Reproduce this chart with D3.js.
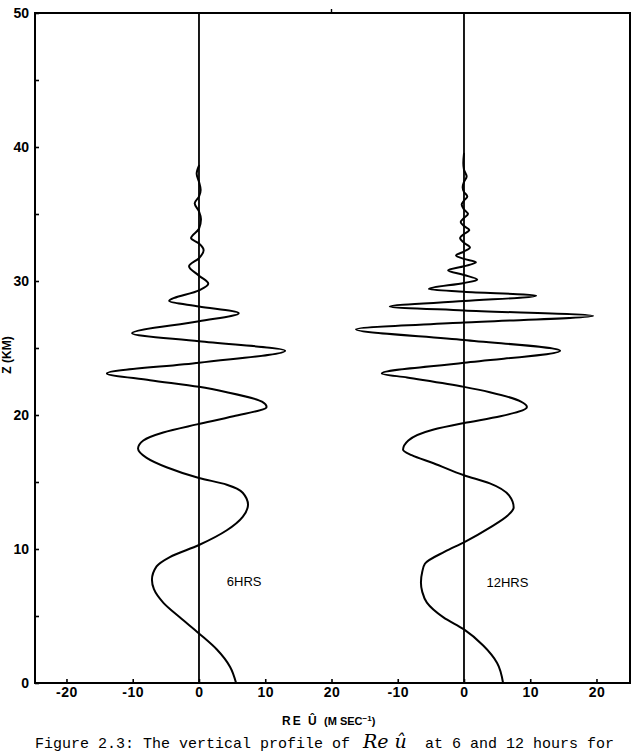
<!DOCTYPE html>
<html>
<head>
<meta charset="utf-8">
<script src="https://cdn.jsdelivr.net/npm/d3@7/dist/d3.min.js"></script>
<style>
html,body{margin:0;padding:0;background:#fff;}
svg{display:block;}
</style>
</head>
<body>
<svg id="chart" width="642" height="752"></svg>
<script>
// ---- data ----
const heights6 = [0,1.2,2.5,3.7,4.9,6.0,7.0,7.7,8.7,9.4,10.3,11.4,12.4,13.3,14.2,14.8,15.3,16.1,16.8,17.5,18.1,18.7,19.3,19.9,20.6,21.0,21.7,22.1,22.6,23.1,23.9,24.8,25.5,26.1,27.0,27.6,28.1,28.5,29.3,29.8,30.4,31.1,31.7,32.3,32.8,33.2,33.9,34.6,35.2,35.8,36.3,36.8,37.4,38.0,38.6];
const wind6    = [5.6,4.7,2.7,0,-2.9,-5.4,-6.8,-7.1,-6.4,-4.4,0,4.2,6.6,7.4,6.6,4.2,0,-4.9,-7.9,-9.2,-8.4,-5.4,-0.3,5.2,10.2,9.5,4.2,0,-7.4,-13.9,0,13.0,0,-10.1,0,6.0,0,-4.5,0,1.4,0,-1.5,0,0.7,0,-1.2,0,0.3,0,-0.65,0,0.25,0,-0.35,0];
const heights12 = [0,1.5,2.8,4.0,4.9,6.0,6.8,7.5,8.3,8.9,9.8,10.5,11.6,12.5,13.1,14.0,14.9,15.5,16.4,17.0,17.4,18.1,18.9,19.4,19.9,20.6,21.0,21.7,22.1,22.8,23.1,23.9,24.8,25.6,26.4,26.9,27.4,27.8,28.1,28.5,28.9,29.2,29.4,29.85,30.1,30.45,30.8,31.1,31.4,31.65,31.9,32.2,32.5,32.85,33.2,33.5,33.8,34.1,34.4,34.7,35.0,35.35,35.7,36.0,36.3,36.65,37.0,37.4,37.8,38.3,38.8,39.5];
const wind12    = [5.9,5.0,2.9,0,-3.1,-5.6,-6.3,-6.5,-6.3,-5.9,-2.9,0,3.9,6.6,7.5,6.8,3.9,0,-4.6,-7.9,-9.2,-8.4,-4.7,0,5.5,9.5,8.6,3.9,0,-8.6,-12.4,0,14.5,0,-16.3,0,19.5,0,-11.2,0,10.9,0,-5.3,0,2.0,0,-2.4,0,1.8,0,-1.2,0,0.9,0,-0.6,0,0.8,0,-0.5,0,0.6,0,-0.35,0,0.5,0,-0.2,0,0.4,0,-0.1,0];
const panelLabels = ["6HRS","12HRS"];
const yTicks = [0,5,10,15,20,25,30,35,40,45,50];
const xTicksA = [-20,-10,0,10,20];
const xTicksB = [-10,0,10,20];

// ---- layout ----
const svg = d3.select("#chart");
svg.append("rect").attr("width",642).attr("height",752).attr("fill","#fff");

const y = d3.scaleLinear().domain([0,50]).range([683,13]);
const xA = d3.scaleLinear().domain([-24.75,20]).range([35,331.5]);
const xB = d3.scaleLinear().domain([-20,25.06]).range([331.5,630]);

const tickFont = "Liberation Sans, Arial, sans-serif";

// left axis
const yAxis = d3.axisLeft(y).tickValues(yTicks).tickSizeInner(-4).tickSizeOuter(0).tickPadding(6)
  .tickFormat(d => d % 10 === 0 ? d : "");
const gy = svg.append("g").attr("transform","translate(35,0)").call(yAxis);
gy.select(".domain").remove();
gy.selectAll("line").attr("stroke","#000").attr("stroke-width",1.6);
gy.selectAll("text").attr("font-family",tickFont).attr("font-weight","bold").attr("font-size",14).attr("fill","#000");

// bottom axes
function bottom(scale, ticks){
  const ax = d3.axisBottom(scale).tickValues(ticks).tickSizeInner(-4).tickSizeOuter(0).tickPadding(4)
    .tickFormat(d => d);
  const g = svg.append("g").attr("transform","translate(0,683)").call(ax);
  g.select(".domain").remove();
  g.selectAll("line").attr("stroke","#000").attr("stroke-width",1.6);
  g.selectAll("text").attr("font-family",tickFont).attr("font-weight","bold").attr("font-size",14)
    .attr("letter-spacing",0.5).attr("fill","#000");
  return g;
}
bottom(xA, xTicksA);
bottom(xB, xTicksB);

// frame
svg.append("rect").attr("x",35).attr("y",13).attr("width",595).attr("height",670)
  .attr("fill","none").attr("stroke","#000").attr("stroke-width",2);
// small mark at the top of the panel boundary
svg.append("line").attr("x1",xA(20)).attr("x2",xA(20)).attr("y1",y(50)).attr("y2",y(50)-4)
  .attr("stroke","#000").attr("stroke-width",1.4);

// zero lines
[[xA,0],[xB,0]].forEach(([sc,v])=>{
  svg.append("line").attr("x1",sc(v)).attr("x2",sc(v)).attr("y1",y(0)).attr("y2",y(50))
    .attr("stroke","#000").attr("stroke-width",1.8);
});

// profiles
function profile(scale, hs, us){
  const pts = hs.map((h,i)=>({z:h,u:us[i]})).sort((a,b)=>b.z-a.z);
  const line = d3.line().x(d=>scale(d.u)).y(d=>y(d.z)).curve(d3.curveMonotoneY);
  svg.append("path").datum(pts).attr("d",line).attr("fill","none").attr("stroke","#000")
    .attr("stroke-width",2).attr("stroke-linejoin","round").attr("stroke-linecap","round");
}
profile(xA, heights6, wind6);
profile(xB, heights12, wind12);

// panel labels
svg.append("text").attr("x",xA(4.2)).attr("y",y(7.6)).attr("dy","0.35em").text(panelLabels[0])
  .attr("font-family",tickFont).attr("font-size",13).attr("fill","#000");
svg.append("text").attr("x",xB(3.4)).attr("y",y(7.5)).attr("dy","0.35em").text(panelLabels[1])
  .attr("font-family",tickFont).attr("font-size",13).attr("fill","#000");

// axis titles
const xt = svg.append("text").attr("x",282).attr("y",725).attr("font-family",tickFont).attr("font-weight","bold").attr("fill","#000");
xt.append("tspan").attr("font-size",12).attr("letter-spacing",2).text("RE Û ");
xt.append("tspan").attr("font-size",11).text("(M SEC");
xt.append("tspan").attr("font-size",8).attr("dy",-4).text("−1");
xt.append("tspan").attr("font-size",11).attr("dy",4).text(")");

svg.append("text").attr("transform","translate(11,355) rotate(-90)").attr("text-anchor","middle")
  .attr("font-family",tickFont).attr("font-weight","bold").attr("font-size",12).attr("fill","#000").text("Z (KM)");

// caption
const capFont = "Liberation Mono, Courier New, monospace";
svg.append("text").attr("x",35).attr("y",748).attr("font-family",capFont).attr("font-size",15).attr("fill","#000")
  .text("Figure 2.3: The vertical profile of");
svg.append("text").attr("x",363).attr("y",748).attr("font-family","DejaVu Serif, serif").attr("font-style","italic").attr("font-size",19).attr("fill","#000")
  .text("Re û");
svg.append("text").attr("x",425).attr("y",748).attr("font-family",capFont).attr("font-size",15).attr("fill","#000")
  .text("at 6 and 12 hours for");
</script>
</body>
</html>
